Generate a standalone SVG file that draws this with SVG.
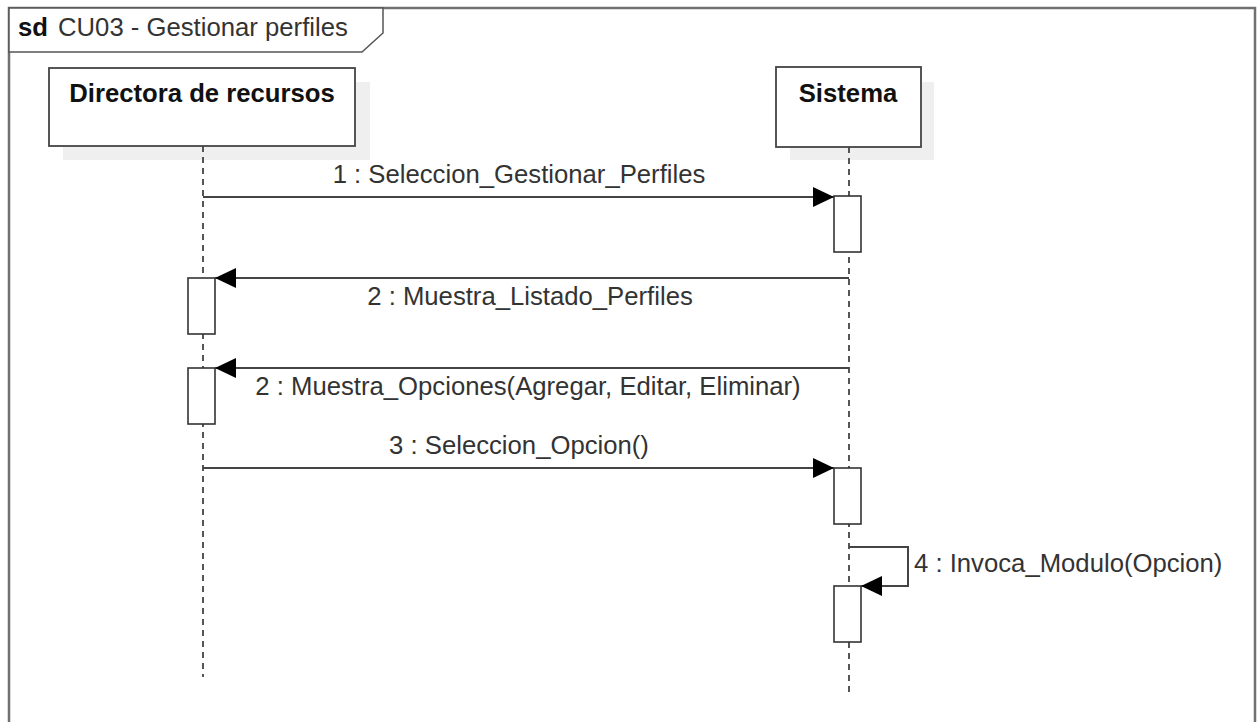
<svg xmlns="http://www.w3.org/2000/svg" width="1257" height="722" viewBox="0 0 1257 722">
<style>
  .frame{fill:#fff;stroke:#707070;stroke-width:2.5}
  .tab{fill:#fff;stroke:#555;stroke-width:1.5}
  .shadow{fill:#efefef;stroke:none}
  .actor{fill:#fff;stroke:#444;stroke-width:1.8}
  .life{stroke:#444;stroke-width:1.8;stroke-dasharray:6 5;fill:none}
  .act{fill:#fff;stroke:#333;stroke-width:1.6}
  .msg{stroke:#444;stroke-width:2;fill:none;marker-end:url(#arr)}
  .lbl{font-family:"Liberation Sans",Arial,sans-serif;font-size:25.7px;fill:#333}
  .name{font-family:"Liberation Sans",Arial,sans-serif;font-size:25.7px;font-weight:bold;fill:#111;text-anchor:middle}
</style>
<defs>
  <marker id="arr" markerUnits="userSpaceOnUse" markerWidth="22" markerHeight="22" refX="21" refY="10" orient="auto">
    <path d="M0,0 L21,10 L0,20 Z" fill="#000"/>
  </marker>
</defs>
<rect width="1257" height="722" fill="#fff"/>
<g id="frame">
  <rect class="frame" x="9" y="8" width="1246" height="730"/>
  <path class="tab" d="M9,8 L383,8 L383,33 L362,52 L9,52 Z"/>
  <text x="18" y="36" class="lbl" style="font-weight:bold;fill:#111">sd</text>
  <text x="58" y="36" class="lbl">CU03 - Gestionar perfiles</text>
</g>
<g id="directora">
  <rect class="shadow" x="63" y="82" width="307" height="78"/>
  <rect class="actor" x="49" y="68" width="306" height="78"/>
  <text class="name" x="202" y="102">Directora de recursos</text>
  <line class="life" x1="203" y1="146" x2="203" y2="677"/>
</g>
<g id="sistema">
  <rect class="shadow" x="790" y="82" width="144" height="78"/>
  <rect class="actor" x="776" y="67" width="145" height="80"/>
  <text class="name" x="848" y="102">Sistema</text>
  <line class="life" x1="849" y1="147" x2="849" y2="692"/>
</g>
<g id="activations">
  <rect class="act" x="834" y="196" width="27" height="56"/>
  <rect class="act" x="188" y="278" width="27" height="56"/>
  <rect class="act" x="188" y="368" width="27" height="56"/>
  <rect class="act" x="834" y="468" width="27" height="56"/>
  <rect class="act" x="834" y="586" width="27" height="56"/>
</g>
<g id="connectors">
  <line class="msg" x1="203" y1="197" x2="834" y2="197"/>
  <line class="msg" x1="849" y1="278" x2="215" y2="278"/>
  <line class="msg" x1="849" y1="368" x2="215" y2="368"/>
  <line class="msg" x1="203" y1="468" x2="834" y2="468"/>
  <polyline class="msg" points="849,547 908,547 908,586 861,586"/>
</g>
<g id="labels">
  <text class="lbl" x="519" y="183" text-anchor="middle">1 : Seleccion_Gestionar_Perfiles</text>
  <text class="lbl" x="530" y="305" text-anchor="middle">2 : Muestra_Listado_Perfiles</text>
  <text class="lbl" x="528" y="395" text-anchor="middle">2 : Muestra_Opciones(Agregar, Editar, Eliminar)</text>
  <text class="lbl" x="519" y="454" text-anchor="middle">3 : Seleccion_Opcion()</text>
  <text class="lbl" x="914" y="572">4 : Invoca_Modulo(Opcion)</text>
</g>
</svg>
